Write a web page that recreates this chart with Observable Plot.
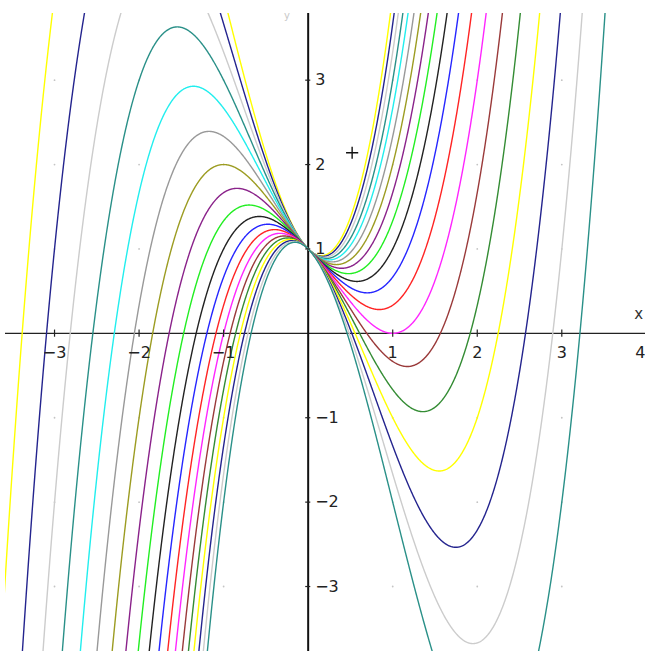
<!DOCTYPE html>
<html>
<head>
<meta charset="utf-8">
<script src="https://cdn.jsdelivr.net/npm/d3@7"></script>
<script src="https://cdn.jsdelivr.net/npm/@observablehq/plot@0.6"></script>
<style>
  html, body { margin: 0; padding: 0; background: #ffffff; }
  #chart svg { display: block; }
</style>
</head>
<body>
<div id="chart"></div>
<script>
// Family of cubics  y = a*x^3 + k*x^2 + b*x + c
const cubicCoef = 1;
const linearCoef = -1;
const constCoef = 1;
const quadCoef = [3, 2.667, 2.333, 2, 1.667, 1.333, 1, 0.667, 0.333, 0,
                  -0.333, -0.667, -1, -1.333, -1.667, -2, -2.333, -2.667, -3];
const curveColors = ["#ffff00", "#24248e", "#cccccc", "#2a9088", "#22eeee",
                     "#999999", "#9c9c22", "#8a228a", "#22ee22", "#222222",
                     "#2626ff", "#ff2424", "#ff26ff", "#9a3a3a", "#348c34",
                     "#ffff00", "#24248e", "#cccccc", "#2a9088"];

const xTicks = [-3, -2, -1, 1, 2, 3, 4];
const xTickLabels = [-3, -2, -1, 1, 2, 3];
const edgeTickLabels = [4];
const yTicks = [-3, -2, -1, 1, 2, 3];
const gridX = [-3, -2, -1, 1, 2, 3];
const gridY = [-3, -2, -1, 1, 2, 3];
const markerPoint = [{x: 0.52, y: 2.14}];
const axisLabels = [{x: 3.91, y: 0.23, text: "x"}];
const faintLabels = [{x: -0.25, y: 3.76, text: "y"}];

const xSamples = d3.range(-3.7, 4.1, 0.005);

function curveRows(k) {
  return xSamples.map(x => {
    const y = cubicCoef * x * x * x + k * x * x + linearCoef * x + constCoef;
    return {x, y: Math.abs(y) > 8 ? NaN : y};
  });
}

const fmt = d => (d < 0 ? "\u2212" + (-d) : String(d));
const gridPts = gridX.flatMap(x => gridY.map(y => ({x, y})));

const curveMarks = quadCoef.map((k, i) =>
  Plot.line(curveRows(k), {x: "x", y: "y", stroke: curveColors[i], strokeWidth: 1.4, clip: true})
);

const chart = Plot.plot({
  width: 645,
  height: 651,
  marginLeft: 5,
  marginRight: 0,
  marginTop: 13,
  marginBottom: 0,
  style: {background: "#ffffff", fontFamily: "DejaVu Sans, sans-serif"},
  x: {domain: [-3.58, 3.99], axis: null},
  y: {domain: [-3.77, 3.79], axis: null},
  marks: [
    Plot.dot(gridPts, {x: "x", y: "y", r: 0.9, fill: "#c4c4c4", stroke: "none"}),
    Plot.ruleY([0], {stroke: "#222", strokeWidth: 1.3}),
    Plot.ruleX([0], {stroke: "#111", strokeWidth: 2}),
    ...curveMarks,
    Plot.link(xTicks, {x1: d => d, x2: d => d, y1: -0.04, y2: 0.045, stroke: "#222", strokeWidth: 1.2}),
    Plot.link(yTicks, {y1: d => d, y2: d => d, x1: -0.035, x2: 0.025, stroke: "#222", strokeWidth: 1.2}),
    Plot.text(xTickLabels, {x: d => d, y: 0, dy: 20, text: fmt, fontSize: 16, fill: "#222"}),
    Plot.text(edgeTickLabels, {x: d => d, y: 0, dy: 20, dx: -1, text: fmt, textAnchor: "end", fontSize: 16, fill: "#222"}),
    Plot.text(yTicks, {x: 0, y: d => d, dx: 7, text: fmt, textAnchor: "start", fontSize: 16, fill: "#222"}),
    Plot.dot(markerPoint, {x: "x", y: "y", symbol: "plus", r: 4, stroke: "#111", strokeWidth: 1.4}),
    Plot.text(axisLabels, {x: "x", y: "y", text: "text", fontSize: 15, fill: "#333"}),
    Plot.text(faintLabels, {x: "x", y: "y", text: "text", fontSize: 10, fill: "#c8c8c8"})
  ]
});

document.getElementById("chart").appendChild(chart);
</script>
</body>
</html>
